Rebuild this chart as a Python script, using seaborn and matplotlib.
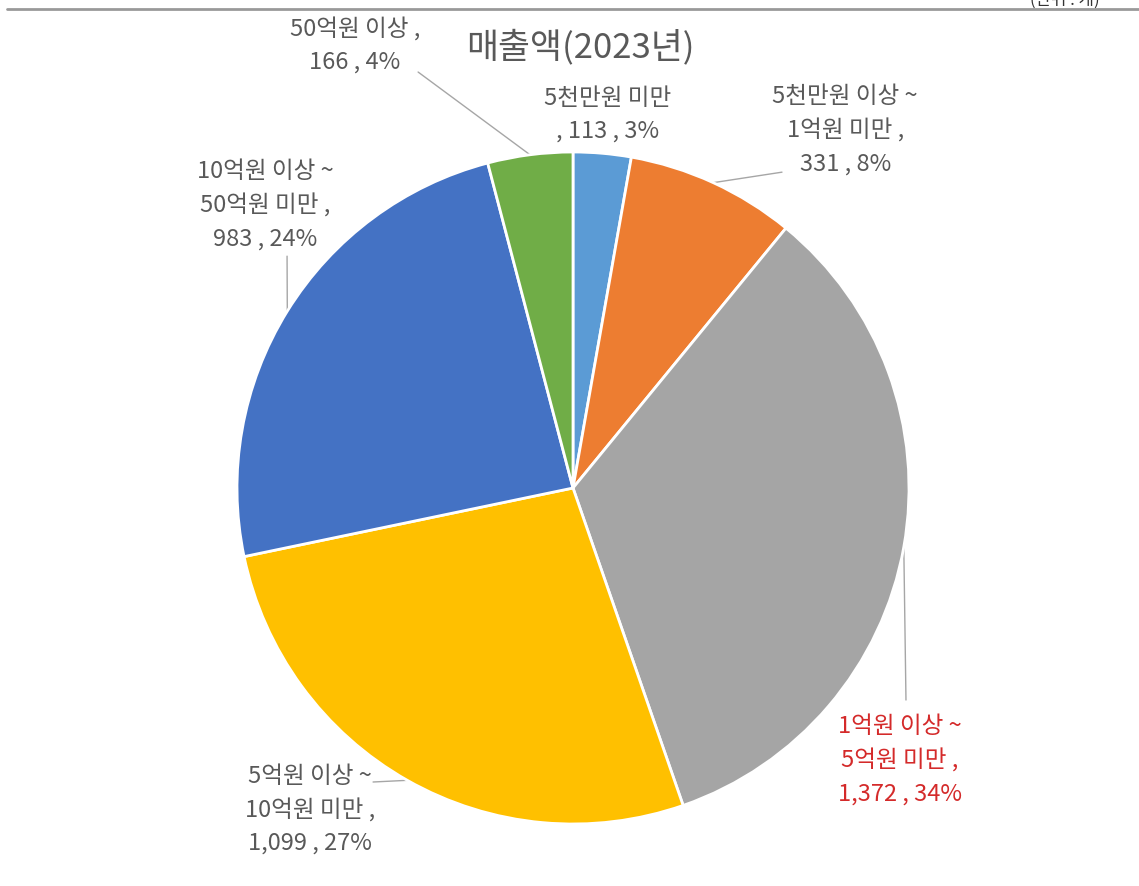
import numpy as np
import matplotlib.pyplot as plt
import seaborn as sns

sns.set_theme(style="white")
plt.rcParams['font.family'] = ['Noto Sans CJK KR', 'DejaVu Sans']

# data
categories = ["5천만원 미만", "5천만원 이상 ~\n1억원 미만", "1억원 이상 ~\n5억원 미만",
              "5억원 이상 ~\n10억원 미만", "10억원 이상 ~\n50억원 미만", "50억원 이상"]
counts = [113, 331, 1372, 1099, 983, 166]
shares = [3, 8, 34, 27, 24, 4]
colors = ["#5B9BD5", "#ED7D31", "#A5A5A5", "#FFC000", "#4472C4", "#70AD47"]

label_texts = [
    "5천만원 미만\n, 113 , 3%",
    "5천만원 이상 ~\n1억원 미만 ,\n331 , 8%",
    "1억원 이상 ~\n5억원 미만 ,\n1,372 , 34%",
    "5억원 이상 ~\n10억원 미만 ,\n1,099 , 27%",
    "10억원 이상 ~\n50억원 미만 ,\n983 , 24%",
    "50억원 이상 ,\n166 , 4%",
]
# label centres and leader-line ends, in units of pie radius
label_pos = [(0.104, 1.11), (0.81, 1.065), (0.973, -0.81),
             (-0.783, -0.958), (-0.917, 0.842), (-0.649, 1.318)]
line_end = [None, (0.622, 0.940), (0.991, -0.631),
            (-0.595, -0.875), (-0.851, 0.690), (-0.461, 1.238)]
label_colors = ["#595959", "#595959", "#D42A2A", "#595959", "#595959", "#595959"]

W, H = 1139, 886
fig = plt.figure(figsize=(W / 100, H / 100), dpi=100)
cx, cy, r = 573, 488, 336
ax = fig.add_axes([(cx - r) / W, (H - cy - r) / H, 2 * r / W, 2 * r / H])

wedges, _ = ax.pie(counts, colors=colors, startangle=90, counterclock=False,
                   radius=1, wedgeprops=dict(edgecolor="white", linewidth=2))
ax.set_xlim(-1, 1)
ax.set_ylim(-1, 1)
ax.axis("off")

for w, txt, pos, end, col in zip(wedges, label_texts, label_pos, line_end, label_colors):
    ax.text(pos[0], pos[1], txt, ha="center", va="center", fontsize=17,
            color=col, linespacing=1.55, clip_on=False)
    if end is not None:
        mid = np.deg2rad((w.theta1 + w.theta2) / 2)
        ax.plot([np.cos(mid), end[0]], [np.sin(mid), end[1]], color="#A6A6A6",
                lw=1, clip_on=False, zorder=0)

ax.text(0.021, 1.31, "매출액(2023년)", ha="center", va="center", fontsize=25,
        color="#595959", clip_on=False)

# header rule and clipped unit note
fig.add_artist(plt.Line2D([7 / W, 1], [1 - 9 / H, 1 - 9 / H], color="#999999", lw=2))
fig.text(1065 / W, 1.0, "(단위 : 개)", ha="center", va="center", fontsize=12, color="#333333")

fig.savefig("out.png", dpi=100)
